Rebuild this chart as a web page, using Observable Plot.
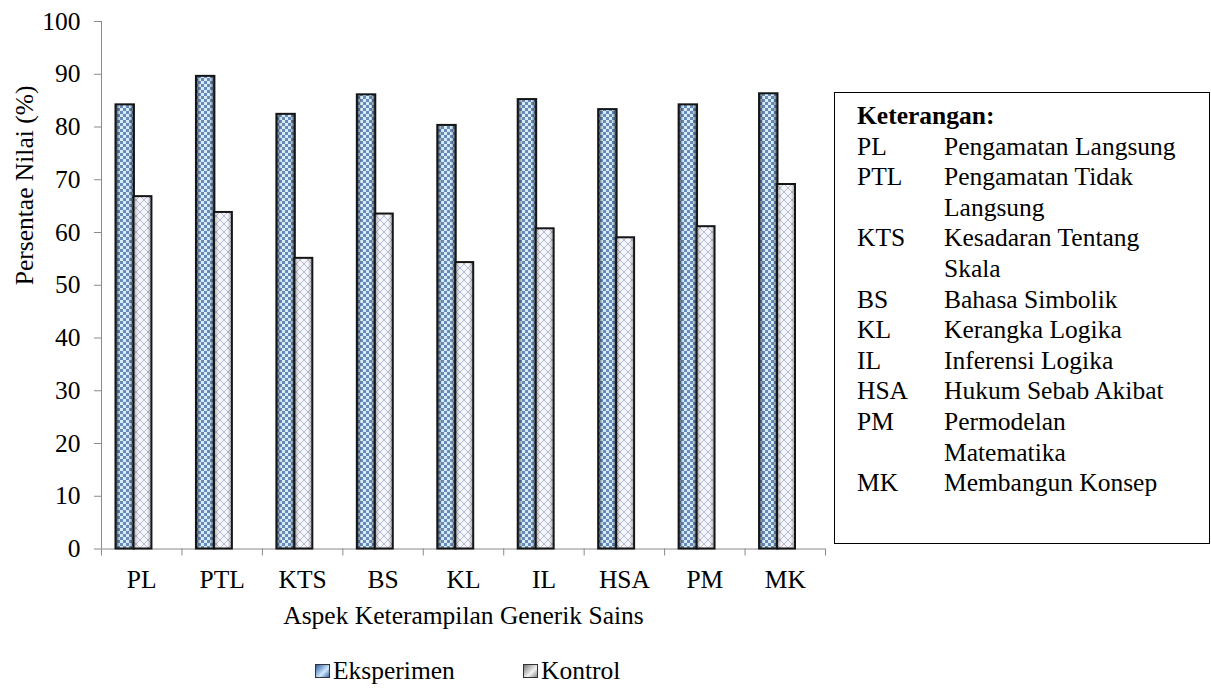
<!DOCTYPE html>
<html>
<head>
<meta charset="utf-8">
<script src="https://cdn.jsdelivr.net/npm/d3@7"></script>
<script src="https://cdn.jsdelivr.net/npm/@observablehq/plot@0.6"></script>
<style>
  html, body { margin: 0; padding: 0; background: #fff; }
  #wrap { position: relative; width: 1211px; height: 688px; overflow: hidden;
          font-family: "Liberation Serif", "Times New Roman", serif; color: #000; }
  #chart { position: absolute; left: 0; top: 0; }
  #legend { position: absolute; left: 0; top: 630px; width: 1211px; height: 58px; font-size: 25.5px; }
  .leg-item { position: absolute; top: 27px; display: flex; align-items: center; line-height: 28px; }
  .sw { width: 15px; height: 14px; margin-right: 3px; border: 1px solid #333; box-sizing: border-box; }
  #ket { position: absolute; left: 834px; top: 92px; width: 376px; height: 452px; box-sizing: border-box;
         border: 1.5px solid #000; font-size: 25.5px; line-height: 30.6px; padding: 8px 0 0 22px; }
  #ket .h { font-weight: bold; }
  #ket .row { display: flex; }
  #ket .ab { width: 87px; flex: none; }
  #ket .ds { width: 240px; }
</style>
</head>
<body>
<div id="wrap">
  <div id="chart"></div>
  <div id="legend"></div>
  <div id="ket"></div>
</div>
<script>
const categories = ["PL", "PTL", "KTS", "BS", "KL", "IL", "HSA", "PM", "MK"];
const eksperimen = [84.2, 89.6, 82.4, 86.1, 80.3, 85.2, 83.3, 84.2, 86.3];
const kontrol    = [66.8, 63.8, 55.1, 63.5, 54.3, 60.7, 59.0, 61.1, 69.1];
const seriesNames = ["Eksperimen", "Kontrol"];
const yTicks = [0, 10, 20, 30, 40, 50, 60, 70, 80, 90, 100];
const yTitle = "Persentae Nilai (%)";
const xTitle = "Aspek Keterampilan Generik Sains";
const ketTitle = "Keterangan:";
const ketAbbr = ["PL", "PTL", "KTS", "BS", "KL", "IL", "HSA", "PM", "MK"];
const ketDesc = ["Pengamatan Langsung", "Pengamatan Tidak Langsung", "Kesadaran Tentang Skala",
  "Bahasa Simbolik", "Kerangka Logika", "Inferensi Logika", "Hukum Sebab Akibat",
  "Permodelan Matematika", "Membangun Konsep"];

const data = categories.map((c, i) => ({c, i, e: eksperimen[i], k: kontrol[i]}));
const FS = 25.5;

const svg = Plot.plot({
  width: 1211,
  height: 630,
  marginLeft: 101,
  marginRight: 386,
  marginTop: 21,
  marginBottom: 81.5,
  style: {fontFamily: "'Liberation Serif', 'Times New Roman', serif", fontSize: FS + "px", color: "#000", background: "transparent"},
  x: {domain: [0, categories.length], axis: null},
  y: {domain: [0, 100], axis: null},
  marks: [
    Plot.axisY({ticks: yTicks, tickSize: 7, tickPadding: 14, stroke: "#8a8a8a", fontSize: FS, label: null}),
    Plot.axisX({ticks: d3.range(categories.length + 1), tickFormat: () => "", tickSize: 7,
                stroke: "#8a8a8a", label: null}),
    Plot.ruleX([0], {stroke: "#8a8a8a"}),
    Plot.ruleY([0], {stroke: "#8a8a8a"}),
    Plot.rectY(data, {x1: d => d.i, x2: d => d.i + 1, y: "e", insetLeft: 14.5, insetRight: 47.5,
                      fill: "url(#patExp)"}),
    Plot.rectY(data, {x1: d => d.i, x2: d => d.i + 1, y: "e", insetLeft: 14.5, insetRight: 47.5,
                      fill: "url(#edgeExp)", stroke: "#151515", strokeWidth: 2}),
    Plot.rectY(data, {x1: d => d.i, x2: d => d.i + 1, y: "k", insetLeft: 32.5, insetRight: 30,
                      fill: "url(#patKon)"}),
    Plot.rectY(data, {x1: d => d.i, x2: d => d.i + 1, y: "k", insetLeft: 32.5, insetRight: 30,
                      fill: "url(#edgeKon)", stroke: "#151515", strokeWidth: 2}),
    Plot.text(data, {x: d => d.i + 0.5, y: 0, text: "c", dy: 31, fontSize: FS, fill: "#000"}),
    Plot.text([xTitle], {frameAnchor: "bottom", dy: 75, fontSize: FS, fill: "#000"}),
    Plot.text([yTitle], {frameAnchor: "left", dx: -77, rotate: -90, fontSize: FS, fill: "#000"})
  ]
});

// patterns
const defs = d3.select(svg).insert("defs", ":first-child");
const pe = defs.append("pattern").attr("id", "patExp").attr("patternUnits", "userSpaceOnUse")
  .attr("width", 6).attr("height", 6);
pe.append("rect").attr("width", 6).attr("height", 6).attr("fill", "#6a8fc0");
pe.append("rect").attr("x", 0).attr("y", 0).attr("width", 3).attr("height", 3).attr("fill", "#e2f6ff");
pe.append("rect").attr("x", 3).attr("y", 3).attr("width", 3).attr("height", 3).attr("fill", "#e2f6ff");
const ge = defs.append("linearGradient").attr("id", "edgeExp");
ge.append("stop").attr("offset", "0").attr("stop-color", "#1d2a3d").attr("stop-opacity", 0.85);
ge.append("stop").attr("offset", "0.25").attr("stop-color", "#1d2a3d").attr("stop-opacity", 0.05);
ge.append("stop").attr("offset", "0.75").attr("stop-color", "#1d2a3d").attr("stop-opacity", 0.05);
ge.append("stop").attr("offset", "1").attr("stop-color", "#1d2a3d").attr("stop-opacity", 0.85);

const pk = defs.append("pattern").attr("id", "patKon").attr("patternUnits", "userSpaceOnUse")
  .attr("width", 8).attr("height", 8);
pk.append("rect").attr("width", 8).attr("height", 8).attr("fill", "#f4f6fb");
pk.append("path").attr("d", "M0,0L8,8M8,0L0,8").attr("stroke", "#b7bacb").attr("stroke-width", 1).attr("fill", "none");
const gk = defs.append("linearGradient").attr("id", "edgeKon");
gk.append("stop").attr("offset", "0").attr("stop-color", "#555").attr("stop-opacity", 0.5);
gk.append("stop").attr("offset", "0.25").attr("stop-color", "#555").attr("stop-opacity", 0.0);
gk.append("stop").attr("offset", "0.75").attr("stop-color", "#555").attr("stop-opacity", 0.0);
gk.append("stop").attr("offset", "1").attr("stop-color", "#555").attr("stop-opacity", 0.5);

document.getElementById("chart").appendChild(svg);

// legend
const legend = d3.select("#legend");
const legLeft = [315, 523];
const swFill = ["linear-gradient(135deg, #2f5f9e, #cfe9ff 60%, #3c6aa5)", "linear-gradient(135deg, #777, #f3f3f3 60%, #888)"];
seriesNames.forEach((s, j) => {
  const it = legend.append("div").attr("class", "leg-item").style("left", legLeft[j] + "px");
  it.append("div").attr("class", "sw").style("background", swFill[j]);
  it.append("span").text(s);
});

// keterangan box
const ket = d3.select("#ket");
ket.append("div").attr("class", "h").text(ketTitle);
ketAbbr.forEach((a, i) => {
  const r = ket.append("div").attr("class", "row");
  r.append("div").attr("class", "ab").text(a);
  r.append("div").attr("class", "ds").text(ketDesc[i]);
});
</script>
</body>
</html>
